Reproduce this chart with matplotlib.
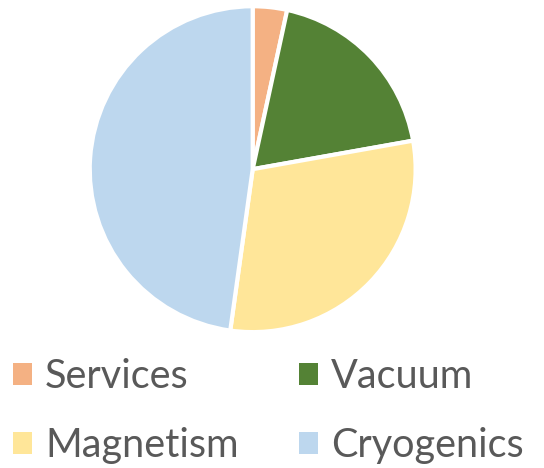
import matplotlib.pyplot as plt
from matplotlib.patches import Patch

labels = ["Services", "Vacuum", "Magnetism", "Cryogenics"]
shares = [3.4, 18.8, 30.0, 47.8]
colors = ["#F4B183", "#548235", "#FFE699", "#BDD7EE"]

plt.rcParams['font.family'] = ['Lato', 'DejaVu Sans']

fig = plt.figure(figsize=(5.44, 4.68), dpi=100, facecolor="white")
ax = fig.add_axes([0.165, 0.29, 0.599, 0.697])
ax.pie(shares, colors=colors, startangle=90, counterclock=False, radius=1.0,
       wedgeprops=dict(edgecolor="white", linewidth=3))
ax.set_xlim(-1, 1)
ax.set_ylim(-1, 1)
ax.set_aspect("equal")

# legend fills column by column, so order items to read row by row
order = [0, 2, 1, 3]
handles = [Patch(facecolor=colors[i], edgecolor="none") for i in order]
leg = fig.legend(handles, [labels[i] for i in order], ncol=2, loc="lower left",
                 bbox_to_anchor=(13 / 544, 4 / 468), frameon=False,
                 borderpad=0, borderaxespad=0,
                 fontsize=28.5, labelcolor="#595959",
                 handlelength=0.48, handleheight=0.48, handletextpad=0.33,
                 columnspacing=1.52, labelspacing=0.8)

fig.savefig("out.png", dpi=100)
